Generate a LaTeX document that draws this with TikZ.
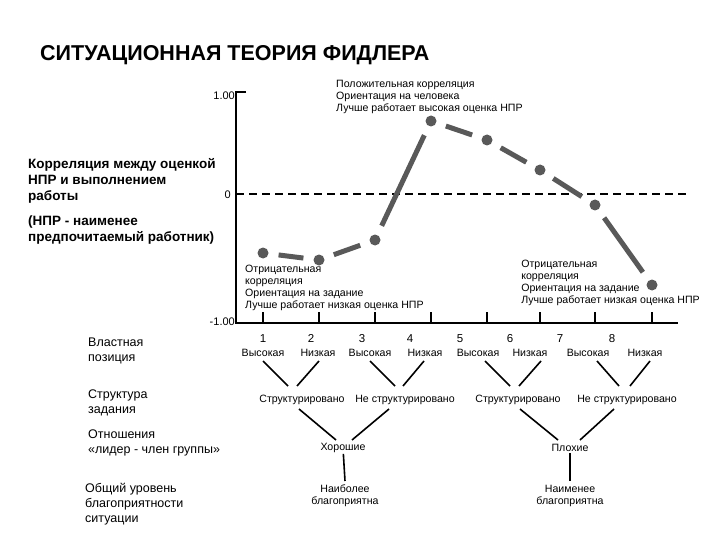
\documentclass[tikz,border=0pt]{standalone}
\usepackage{fontspec}
\setmainfont{Liberation Sans}
\begin{document}
\begin{tikzpicture}[x=1pt,y=-1pt,
  sm/.style={font=\fontsize{10.6}{11.8}\selectfont,inner sep=0pt,align=left},
  smc/.style={font=\fontsize{10.6}{12}\selectfont,inner sep=1pt,align=center},
  lab/.style={font=\fontsize{12.5}{15}\selectfont,inner sep=0pt,align=left,anchor=north west},
  bl/.style={font=\bfseries\fontsize{13.5}{16}\selectfont,inner sep=0pt,align=left,anchor=north west},
  ax/.style={line width=2.2pt},
  br/.style={line width=1.6pt},
  seg/.style={line width=5pt,draw=black!65,shorten <=10pt,shorten >=10pt},
  dot/.style={circle,fill=black!65,minimum size=11pt,inner sep=0pt}]
\useasboundingbox (0,0) rectangle (720,540);
\node[anchor=west,font=\bfseries\fontsize{21.5}{24}\selectfont,inner sep=0pt] (title) at (40,55) {СИТУАЦИОННАЯ ТЕОРИЯ ФИДЛЕРА};
% axes
\coordinate (top) at (236,92); \coordinate (org) at (236,323); \coordinate (xe) at (678,323);
\draw[ax] (246,92) -- (top) -- (org) -- (xe);
\foreach \x in {263,319,375,431,487,540,595,652} \draw[ax] (\x,323) -- (\x,312);
\draw[line width=1.6pt,dash pattern=on 8pt off 5pt] (236,194) -- (690,194);
\node[anchor=east,font=\fontsize{11}{12}\selectfont,inner sep=1pt] (l1) at (236,96) {1.00};
\node[anchor=east,font=\fontsize{11}{12}\selectfont,inner sep=1pt] (l0) at (232,195) {0};
\node[anchor=east,font=\fontsize{11}{12}\selectfont,inner sep=1pt] (lm) at (236,322) {-1.00};
% points
\foreach \n/\x/\y in {1/263/253,2/319/260,3/375/240,4/431/121,5/487/140,6/540/170,7/595/205,8/652/285}
  \node[dot] (p\n) at (\x,\y) {};
\foreach \a/\b in {1/2,2/3,3/4,4/5,5/6,6/7,7/8} \draw[seg] (p\a) -- (p\b);
% annotations
\node[sm,anchor=north west] (pos) at (336,80) {Положительная корреляция\\Ориентация на человека\\Лучше работает высокая оценка НПР};
\node[sm,anchor=north west] (neg1) at (245,265) {Отрицательная\\корреляция\\Ориентация на задание\\Лучше работает низкая оценка НПР};
\node[sm,anchor=north east] (neg2) at (700,260) {Отрицательная\\корреляция\\Ориентация на задание\\Лучше работает низкая оценка НПР};
% left labels
\node[bl] (corr) at (28,158) {Корреляция между оценкой\\НПР и выполнением\\работы};
\node[bl] (npr) at (28,216) {(НПР - наименее\\предпочитаемый работник)};
\node[lab] (vp) at (88,338) {Властная\\позиция};
\node[lab] (sz) at (88,390) {Структура\\задания};
\node[lab] (ot) at (88,430) {Отношения\\«лидер - член группы»};
\node[lab] (ob) at (85,483) {Общий уровень\\благоприятности\\ситуации};
% numbers
\foreach \n/\x in {1/263,2/311,3/362,4/410,5/460,6/510,7/560,8/612}
  \node[smc,font=\fontsize{11.5}{12}\selectfont,anchor=base] (n\n) at (\x,342) {\n};
% power
\foreach \n/\x/\t in {1/263/Высокая,2/318/Низкая,3/370/Высокая,4/425/Низкая,5/478/Высокая,6/530/Низкая,7/588/Высокая,8/645/Низкая}
  \node[smc,anchor=base] (v\n) at (\x,356) {\t};
% structure
\node[smc] (s1) at (302,400) {Структурировано};
\node[smc] (s2) at (405,400) {Не структурировано};
\node[smc] (s3) at (518,400) {Структурировано};
\node[smc] (s4) at (627,400) {Не структурировано};
\node[smc] (g) at (343,448) {Хорошие};
\node[smc] (b) at (570,448) {Плохие};
\node[smc] (mf) at (345,496) {Наиболее\\благоприятна};
\node[smc] (lf) at (570,496) {Наименее\\благоприятна};
% branches
\draw[br] (263,361) -- (288,386); \draw[br] (319,361) -- (297,386);
\draw[br] (370,361) -- (395,386); \draw[br] (424,361) -- (403,386);
\draw[br] (485,361) -- (510,386); \draw[br] (541,361) -- (519,386);
\draw[br] (597,361) -- (619,386); \draw[br] (650,361) -- (630,386);
\draw[br] (299,409) -- (336,440); \draw[br] (389,409) -- (352,440);
\draw[br] (520,409) -- (558,440); \draw[br] (614,409) -- (580,440);
\draw[br] (g) -- (345,481);
\draw[br] (b) -- (570,481);
\end{tikzpicture}
\end{document}
